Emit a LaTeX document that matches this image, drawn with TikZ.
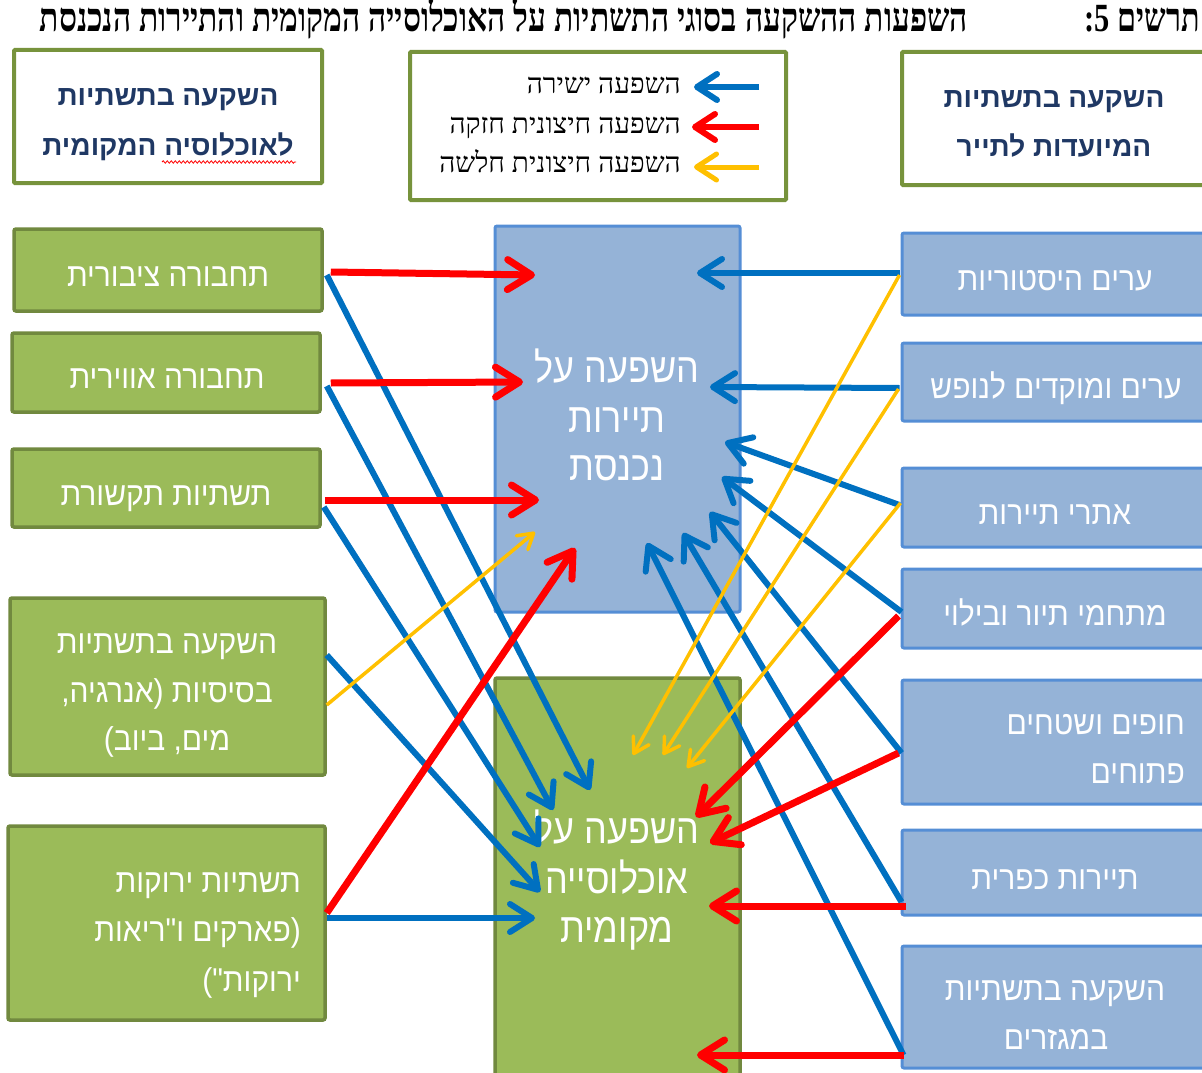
\documentclass[tikz,border=0pt]{standalone}
\usepackage{fontspec}
\usepackage{graphicx}
\usetikzlibrary{arrows.meta,decorations.pathmorphing}
\TeXXeTstate=1
\newfontfamily\hsans[Script=Hebrew]{Liberation Sans}
\newfontfamily\hserif[Script=Hebrew]{Liberation Serif}
\definecolor{gfill}{HTML}{9BBB59}
\definecolor{gborder}{HTML}{71893F}
\definecolor{hborder}{HTML}{77933C}
\definecolor{bfill}{HTML}{95B3D7}
\definecolor{bborder}{HTML}{558ED5}
\definecolor{arblue}{HTML}{0070C0}
\definecolor{arred}{HTML}{FF0000}
\definecolor{aryel}{HTML}{FFC000}
\definecolor{hnavy}{HTML}{1F3864}
\newcommand{\hebR}[1]{\scalebox{1}[1.1]{\beginR #1\endR}}
\newcommand{\hebC}[1]{\scalebox{1}[1.15]{\beginR #1\endR}}
\newcommand{\hebP}[1]{\beginR #1\endR}
\tikzset{
  gbox/.style={draw=gborder, fill=gfill, line width=3.5pt, rounded corners=2pt, inner sep=0pt},
  bbox/.style={draw=bborder, fill=bfill, line width=3pt, rounded corners=2pt, inner sep=0pt},
  hbox/.style={draw=hborder, fill=white, line width=4pt, rounded corners=1pt, inner sep=0pt},
  wtext/.style={text=white, font=\hsans\fontsize{30}{36}\selectfont, inner sep=0pt, anchor=base},
  wtextr/.style={wtext, anchor=base east},
  ctext/.style={text=white, font=\hsans\fontsize{36}{42}\selectfont, inner sep=0pt, anchor=base},
  htext/.style={text=hnavy, font=\hsans\bfseries\fontsize{28}{34}\selectfont, inner sep=0pt, anchor=base},
  ltext/.style={text=black, font=\hserif\fontsize{28}{32}\selectfont, inner sep=0pt, anchor=base east},
  ttext/.style={text=black, font=\hserif\bfseries\fontsize{40}{44}\selectfont, inner sep=0pt, anchor=base east},
  barrow/.style={draw=arblue, line width=6pt, -{Straight Barb[length=22pt,width=28pt,round]}},
  rarrow/.style={draw=arred, line width=7pt, -{Straight Barb[length=24pt,width=30pt,round]}},
  yarrow/.style={draw=aryel, line width=3.5pt, -{Straight Barb[length=15pt,width=18pt,round]}},
  lbarrow/.style={barrow, -{Straight Barb[length=20pt,width=26pt,round]}},
  lrarrow/.style={rarrow, line width=6pt, -{Straight Barb[length=20pt,width=26pt,round]}},
  lyarrow/.style={yarrow, line width=5pt, -{Straight Barb[length=20pt,width=26pt,round]}},
}
\begin{document}
\begin{tikzpicture}[x=1pt,y=-1pt]
\useasboundingbox (0,0) rectangle (1202,1073);
\clip (0,0) rectangle (1202,1073);

% title
\node[ttext] (T1) at (1200,32) {\resizebox{115pt}{\height}{\hebP{תרשים 5:}}};
\node[ttext] (T2) at (968,32) {\resizebox{928pt}{\height}{\hebP{השפעות ההשקעה בסוגי התשתיות על האוכלוסייה המקומית והתיירות הנכנסת}}};

% header boxes
\node[hbox, minimum width=308pt, minimum height=133pt] (HL) at (168,116.5) {};
\node[htext] (HLa) at (168,105) {\hebP{השקעה בתשתיות}};
\node[htext] (HLb) at (168,155) {\hebP{לאוכלוסיה המקומית}};
\coordinate (wv1) at (162,162);
\coordinate (wv2) at (296,162);
\draw[arred, line width=0.8pt, decorate, decoration={snake, amplitude=1.2pt, segment length=4pt}] (wv1) -- (wv2);

\node[hbox, minimum width=376pt, minimum height=148pt] (LG) at (598,126) {};
\node[ltext] (LG1) at (681,93) {\hebP{השפעה ישירה}};
\node[ltext] (LG2) at (681,133) {\hebP{השפעה חיצונית חזקה}};
\node[ltext] (LG3) at (681,172) {\hebP{השפעה חיצונית חלשה}};
\coordinate (lga1) at (759,87);  \coordinate (lga2) at (694,87);
\coordinate (lgb1) at (759,127); \coordinate (lgb2) at (692,127);
\coordinate (lgc1) at (759,167); \coordinate (lgc2) at (694,167);

\node[hbox, minimum width=313pt, minimum height=133pt] (HR) at (1058.5,118.5) {};
\node[htext] (HRa) at (1054,107) {\hebP{השקעה בתשתיות}};
\node[htext] (HRb) at (1054,156) {\hebP{המיועדות לתייר}};

% left boxes
\node[gbox, minimum width=308pt, minimum height=82pt] (L1) at (168,270) {};
\node[wtext] (L1t) at (168,286) {\hebR{תחבורה ציבורית}};
\node[gbox, minimum width=308pt, minimum height=79pt] (L2) at (166,372.5) {};
\node[wtext] (L2t) at (167,388) {\hebR{תחבורה אווירית}};
\node[gbox, minimum width=308pt, minimum height=78pt] (L3) at (166,488) {};
\node[wtext] (L3t) at (166,505) {\hebR{תשתיות תקשורת}};
\node[gbox, minimum width=315pt, minimum height=177pt] (L4) at (167.5,686.5) {};
\node[wtext] (L4a) at (167,653) {\hebR{השקעה בתשתיות}};
\node[wtext] (L4b) at (167,702) {\hebR{בסיסיות (אנרגיה,}};
\node[wtext] (L4c) at (167,750) {\hebR{מים, ביוב)}};
\node[gbox, minimum width=317pt, minimum height=194pt] (L5) at (166.5,923) {};
\node[wtextr] (L5a) at (301,892) {\hebR{תשתיות ירוקות}};
\node[wtextr] (L5b) at (301,941) {\hebR{(פארקים ו"ריאות}};
\node[wtextr] (L5c) at (301,991) {\hebR{ירוקות")}};

% center boxes
\node[bbox, minimum width=245pt, minimum height=386pt] (TB) at (617.5,419) {};
\node[ctext] (TBa) at (617,382) {\hebC{השפעה על}};
\node[ctext] (TBb) at (617,432) {\hebC{תיירות}};
\node[ctext] (TBc) at (617,480) {\hebC{נכנסת}};
\node[gbox, minimum width=245pt, minimum height=412pt] (LP) at (617.5,884) {};
\node[ctext] (LPa) at (617,843) {\hebC{השפעה על}};
\node[ctext] (LPb) at (617,893) {\hebC{אוכלוסייה}};
\node[ctext] (LPc) at (617,942) {\hebC{מקומית}};

% right boxes
\node[bbox, minimum width=313pt, minimum height=82pt] (R1) at (1058.5,274) {};
\node[wtext] (R1t) at (1055,290) {\hebR{ערים היסטוריות}};
\node[bbox, minimum width=313pt, minimum height=78pt] (R2) at (1058.5,382) {};
\node[wtext] (R2t) at (1056,398) {\hebR{ערים ומוקדים לנופש}};
\node[bbox, minimum width=313pt, minimum height=79pt] (R3) at (1058.5,507.5) {};
\node[wtext] (R3t) at (1055,524) {\hebR{אתרי תיירות}};
\node[bbox, minimum width=313pt, minimum height=79pt] (R4) at (1058.5,608.5) {};
\node[wtext] (R4t) at (1055,625) {\hebR{מתחמי תיור ובילוי}};
\node[bbox, minimum width=313pt, minimum height=124pt] (R5) at (1058.5,742) {};
\node[wtextr] (R5a) at (1185,734) {\hebR{חופים ושטחים}};
\node[wtextr] (R5b) at (1185,783) {\hebR{פתוחים}};
\node[bbox, minimum width=313pt, minimum height=85pt] (R6) at (1058.5,872.5) {};
\node[wtext] (R6t) at (1055,889) {\hebR{תיירות כפרית}};
\node[bbox, minimum width=313pt, minimum height=122pt] (R7) at (1058.5,1007) {};
\node[wtext] (R7a) at (1055,1000) {\hebR{השקעה בתשתיות}};
\node[wtext] (R7b) at (1056,1049) {\hebR{במגזרים}};

% arrow tips
\coordinate (tbR1) at (697,273); \coordinate (tbR2) at (710,387);
\coordinate (tbR3) at (725,442); \coordinate (tbR4) at (722,477);
\coordinate (tbR5) at (710,512); \coordinate (tbR6) at (683,533);
\coordinate (tbR7) at (647,543);
\coordinate (tbL1) at (535,275); \coordinate (tbL2) at (523,382);
\coordinate (tbL3) at (539,500); \coordinate (tbL5) at (575,548);
\coordinate (tbY) at (535,532);
\coordinate (lpL1) at (590,790); \coordinate (lpL2) at (553,810);
\coordinate (lpL3) at (540,847); \coordinate (lpL4) at (540,892);
\coordinate (lpL5) at (535,918);
\coordinate (lpR4) at (696,817); \coordinate (lpR5) at (710,843);
\coordinate (lpR6) at (709,906); \coordinate (lpR7) at (697,1055);
\coordinate (lpY1) at (633,755); \coordinate (lpY2) at (663,755);
\coordinate (lpY3) at (687,768);

% legend arrows
\draw[lbarrow] (lga1) -- (lga2);
\draw[lrarrow] (lgb1) -- (lgb2);
\draw[lyarrow] (lgc1) -- (lgc2);

% blue arrows
\draw[barrow] ([xshift=3pt,yshift=-5pt]L1.east) -- (lpL1);
\draw[barrow] ([xshift=5pt,yshift=-13.5pt]L2.east) -- (lpL2);
\draw[barrow] ([xshift=2pt,yshift=-19pt]L3.east) -- (lpL3);
\draw[barrow] ([yshift=31.5pt]L4.east) -- (lpL4);
\draw[barrow] ([yshift=5pt]L5.east) -- (lpL5);
\draw[barrow] ([xshift=-1pt,yshift=1pt]R1.west) -- (tbR1);
\draw[barrow] ([xshift=-1pt,yshift=-6pt]R2.west) -- (tbR2);
\draw[barrow] ([xshift=-1pt,yshift=2.5pt]R3.west) -- (tbR3);
\draw[barrow] ([xshift=1pt,yshift=-3.5pt]R4.west) -- (tbR4);
\draw[barrow] ([xshift=1pt,yshift=-11pt]R5.west) -- (tbR5);
\draw[barrow] ([xshift=1pt,yshift=-29.5pt]R6.west) -- (tbR6);
\draw[barrow] ([xshift=3pt,yshift=-48pt]R7.west) -- (tbR7);

% yellow arrows
\draw[yarrow] ([yshift=-18.5pt]L4.east) -- (tbY);
\draw[yarrow] ([xshift=-1pt,yshift=-1pt]R1.west) -- (lpY1);
\draw[yarrow] ([xshift=-2pt,yshift=-7pt]R2.west) -- (lpY2);
\draw[yarrow] ([yshift=4.5pt]R3.west) -- (lpY3);

% red arrows
\draw[rarrow] ([xshift=7pt,yshift=-2pt]L1.east) -- (tbL1);
\draw[rarrow] ([xshift=9pt,yshift=-10.5pt]L2.east) -- (tbL2);
\draw[rarrow] ([xshift=3pt,yshift=-12pt]L3.east) -- (tbL3);
\draw[rarrow] ([yshift=10pt]L5.east) -- (tbL5);
\draw[rarrow] ([xshift=-2pt,yshift=-7.5pt]R4.west) -- (lpR4);
\draw[rarrow] ([xshift=-2pt,yshift=-11pt]R5.west) -- (lpR5);
\draw[rarrow] ([xshift=5pt,yshift=-33.5pt]R6.west) -- (lpR6);
\draw[rarrow] ([xshift=3pt,yshift=-48pt]R7.west) -- (lpR7);
\end{tikzpicture}
\end{document}
